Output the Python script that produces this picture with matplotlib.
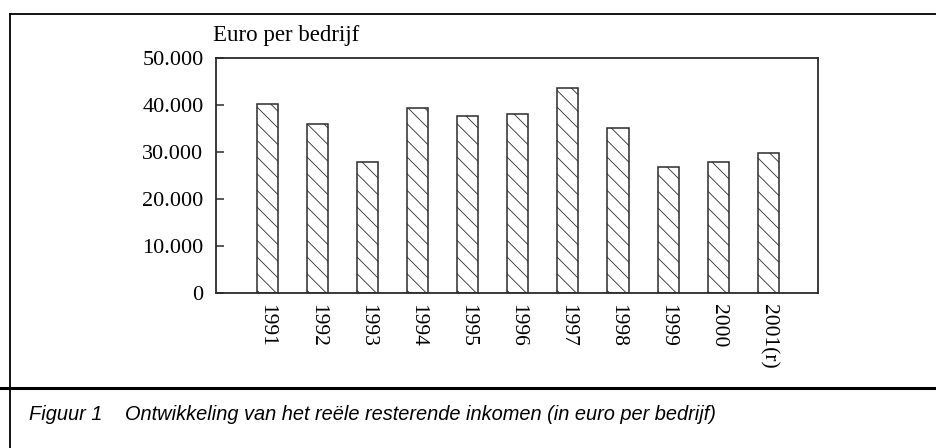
"""Reele resterende inkomen per bedrijf, 1991-2001"""

import matplotlib
matplotlib.use("Agg")
from matplotlib import pyplot as plt
from matplotlib.lines import Line2D

years = ['1991', '1992', '1993', '1994', '1995', '1996',
         '1997', '1998', '1999', '2000', '2001(r)']
income = [40300, 36000, 28000, 39300, 37600, 38200,
          43600, 35200, 26900, 28000, 29900]
yticks = [0, 10000, 20000, 30000, 40000, 50000]
ytick_labels = ['0', '10.000', '20.000', '30.000', '40.000', '50.000']

serif = ['Liberation Serif', 'DejaVu Serif']
caption_font = ['Liberation Sans', 'DejaVu Sans']
edge = '#2b2b2b'

plt.rcParams['hatch.linewidth'] = 0.6
plt.rcParams['hatch.color'] = edge

fig = plt.figure(figsize=(9.37, 4.48), dpi=100)
ax = fig.add_axes([216 / 937, 1 - 293.3 / 448, 602 / 937, 235.3 / 448])

ax.bar(range(len(years)), income, width=0.42, color='white',
       edgecolor=edge, linewidth=1.1, hatch='\\\\')

ax.set_xlim(-1.02, 10.99)
ax.set_ylim(0, 50000)
ax.set_yticks(yticks)
ax.set_yticklabels(ytick_labels, family=serif, fontsize=16)
ax.set_xticks(range(len(years)))
ax.set_xticklabels(years, family=serif, fontsize=15.5, rotation=270,
                   va='top', ha='center')
ax.tick_params(axis='y', direction='in', length=6, width=1.1, pad=9,
               colors=edge, labelcolor='black')
ax.tick_params(axis='x', length=0, pad=8)
for sp in ax.spines.values():
    sp.set_linewidth(1.3)
    sp.set_color(edge)

fig.text(213 / 937, 1 - 35 / 448, 'Euro per bedrijf', family=serif,
         fontsize=16.5, va='center', ha='left')

# outer frame lines and caption
fig.add_artist(Line2D([10 / 937, 1], [1 - 14 / 448, 1 - 14 / 448],
                      color='black', lw=1.3, transform=fig.transFigure))
fig.add_artist(Line2D([10 / 937, 10 / 937], [0, 1 - 14 / 448],
                      color='black', lw=1.3, transform=fig.transFigure))
fig.add_artist(Line2D([0, 1], [1 - 388 / 448, 1 - 388 / 448],
                      color='black', lw=2.2, transform=fig.transFigure))

fig.text(29 / 937, 1 - 414 / 448, 'Figuur 1', family=caption_font,
         style='italic', fontsize=14.4, va='center')
fig.text(125 / 937, 1 - 414 / 448,
         'Ontwikkeling van het reële resterende inkomen (in euro per bedrijf)',
         family=caption_font, style='italic', fontsize=14.4, va='center')

fig.savefig('out.png', dpi=100)
